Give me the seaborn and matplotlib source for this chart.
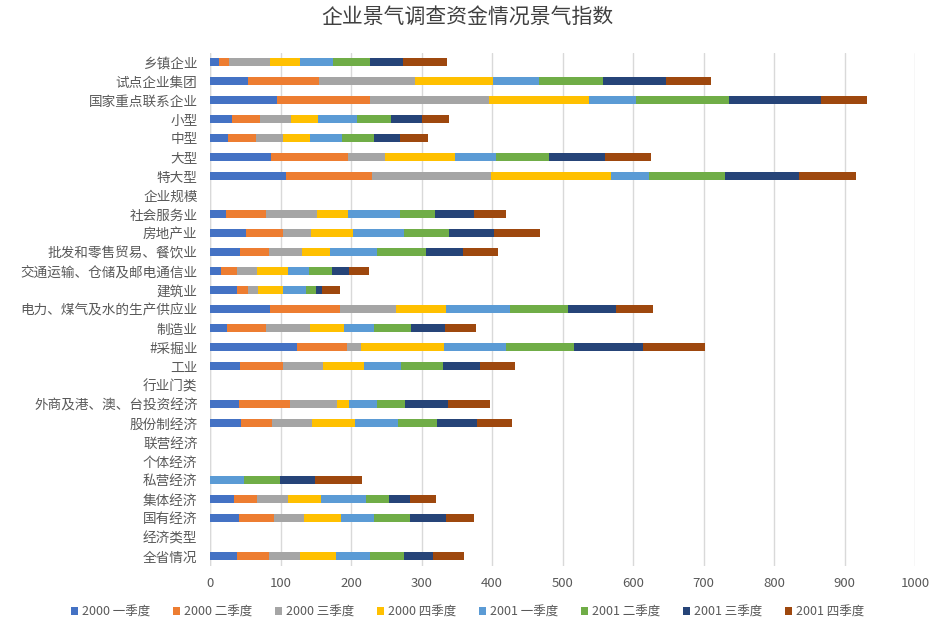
import numpy as np
import pandas as pd
import matplotlib
matplotlib.use("Agg")
import matplotlib.pyplot as plt
from matplotlib.patches import Patch
import seaborn as sns

# 类别（自上而下）
categories = [
    "乡镇企业", "试点企业集团", "国家重点联系企业", "小型", "中型", "大型", "特大型", "企业规模",
    "社会服务业", "房地产业", "批发和零售贸易、餐饮业", "交通运输、仓储及邮电通信业", "建筑业",
    "电力、煤气及水的生产供应业", "制造业", "#采掘业", "工业", "行业门类",
    "外商及港、澳、台投资经济", "股份制经济", "联营经济", "个体经济", "私营经济",
    "集体经济", "国有经济", "经济类型", "全省情况",
]

series_names = ["2000 一季度", "2000 二季度", "2000 三季度", "2000 四季度",
                "2001 一季度", "2001 二季度", "2001 三季度", "2001 四季度"]

q2000_1 = [12.8, 54.4, 95.6, 31.2, 25.6, 86.6, 107.9, 0, 22.7, 51.1, 42.6, 15.6, 38.3,
           85.2, 24.6, 123.8, 42.6, 0, 41.6, 44.0, 0, 0, 0, 34.1, 41.6, 0, 38.3]
q2000_2 = [14.7, 100.8, 130.7, 39.8, 39.3, 108.9, 122.1, 0, 56.4, 53.0, 40.7, 23.2, 15.2,
           99.8, 54.9, 70.1, 61.5, 0, 72.0, 44.0, 0, 0, 0, 33.1, 49.3, 0, 45.5]
q2000_3 = [57.8, 135.8, 169.9, 43.5, 38.8, 52.5, 168.6, 0, 72.4, 39.3, 47.3, 28.4, 15.1,
           79.1, 62.5, 19.9, 56.3, 0, 66.3, 56.8, 0, 0, 0, 43.6, 42.6, 0, 44.0]
q2000_4 = [42.7, 110.4, 142.0, 39.3, 38.3, 99.9, 170.9, 0, 44.0, 59.7, 39.8, 43.6, 35.1,
           70.6, 48.3, 117.8, 58.7, 0, 17.5, 61.5, 0, 0, 0, 46.4, 52.9, 0, 51.1]
q2001_1 = [46.0, 65.1, 66.3, 54.5, 45.9, 58.2, 53.0, 0, 74.3, 72.4, 66.7, 29.8, 32.6,
           90.3, 42.5, 87.6, 52.1, 0, 39.3, 60.6, 0, 0, 48.3, 63.9, 46.5, 0, 48.3]
q2001_2 = [53.6, 90.5, 131.0, 48.7, 45.0, 74.3, 107.9, 0, 49.7, 63.8, 68.6, 33.0, 14.2,
           83.3, 51.6, 97.2, 58.6, 0, 40.2, 55.4, 0, 0, 51.1, 33.1, 51.1, 0, 47.3]
q2001_3 = [46.0, 90.5, 130.6, 44.0, 35.9, 80.5, 104.6, 0, 54.4, 63.9, 52.6, 23.8, 8.5,
           67.2, 49.2, 98.4, 53.5, 0, 60.0, 55.8, 0, 0, 49.7, 29.8, 51.1, 0, 41.7]
q2001_4 = [63.0, 63.5, 66.3, 37.9, 40.3, 64.9, 81.8, 0, 46.0, 65.4, 50.2, 28.4, 25.6,
           53.5, 44.1, 87.6, 49.7, 0, 60.7, 50.2, 0, 0, 66.7, 36.9, 39.8, 0, 43.5]

colors = ["#4472C4", "#ED7D31", "#A5A5A5", "#FFC000",
          "#5B9BD5", "#70AD47", "#264478", "#9E480E"]

df = pd.DataFrame({
    "类别": categories,
    series_names[0]: q2000_1, series_names[1]: q2000_2,
    series_names[2]: q2000_3, series_names[3]: q2000_4,
    series_names[4]: q2001_1, series_names[5]: q2001_2,
    series_names[6]: q2001_3, series_names[7]: q2001_4,
})
cum = df[series_names].cumsum(axis=1)

sns.set_style("white")
plt.rcParams["font.family"] = ["Noto Sans CJK SC", "DejaVu Sans"]
plt.rcParams["axes.unicode_minus"] = False

fig = plt.figure(figsize=(9.35, 6.26), dpi=100)
ax = fig.add_axes([210 / 935, 1 - 565.5 / 626, 705 / 935, 513 / 626])

# 堆叠：从最后一个累计值往前画，前面的覆盖后面的
for name, color in zip(reversed(series_names), reversed(colors)):
    sns.barplot(x=cum[name], y=df["类别"], order=categories, orient="h",
                color=color, saturation=1, width=0.42, linewidth=0, ax=ax,
                errorbar=None)

ax.set_xlim(0, 1000)
ax.set_xticks(np.arange(0, 1001, 100))
ax.xaxis.grid(True, color="#D9D9D9", linewidth=1)
ax.set_axisbelow(True)
for s in ax.spines.values():
    s.set_visible(False)
ax.axvline(0, color="#D9D9D9", linewidth=1, zorder=0)
ax.set_xlabel("")
ax.set_ylabel("")
ax.tick_params(axis="x", length=0, labelsize=9.5, labelcolor="#595959", pad=8)
ax.tick_params(axis="y", length=0, labelsize=9.8, labelcolor="#595959", pad=9)

fig.text(0.5, 1 - 18 / 626, "企业景气调查资金情况景气指数", ha="center", va="center",
         fontsize=15, color="#404040")

handles = [Patch(facecolor=c, edgecolor="none", label=n) for n, c in zip(series_names, colors)]
fig.legend(handles=handles, loc="center", bbox_to_anchor=(0.5, 1 - 612 / 626), ncol=8,
           frameon=False, fontsize=9, handlelength=0.6, handleheight=0.6,
           handletextpad=0.3, columnspacing=1.8, labelcolor="#595959")

fig.savefig("out.png", dpi=100)
